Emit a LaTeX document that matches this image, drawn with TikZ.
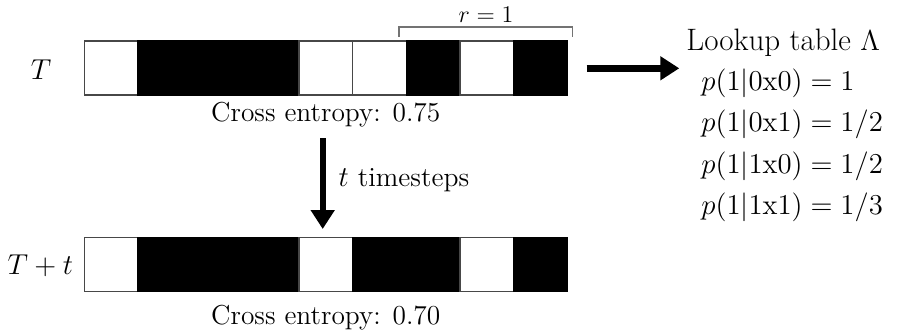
\documentclass[tikz,border=0pt]{standalone}
\usetikzlibrary{arrows.meta}
\begin{document}
\begin{tikzpicture}[x=0.5pt,y=-0.5pt,
 cell/.style={line width=0.8pt, minimum width=26.83pt, minimum height=27pt, inner sep=0pt, outer sep=0pt, anchor=north west},
 w cell/.style={cell, fill=white, draw=black!72},
 b cell/.style={cell, fill=black, draw=black},
 bigtxt/.style={font=\fontsize{13.7}{16}\selectfont, inner sep=0pt},
 titletxt/.style={font=\fontsize{15.5}{18}\selectfont, inner sep=0pt},
 lbl/.style={font=\fontsize{13.8}{16}\selectfont, inner sep=0pt},
 rlbl/.style={font=\fontsize{13}{15}\selectfont, inner sep=0pt},
 ent/.style={font=\fontsize{14.2}{17}\selectfont, inner sep=0pt, anchor=base west},
 bigarrow/.style={line width=3.2pt, -{Triangle[length=9.5pt,width=11.5pt]}},
 brk/.style={draw=black!55, line width=0.7pt}]
\useasboundingbox (0,0) rectangle (901,334);
\foreach \c [count=\i] in {w,b,b,b,w,w,b,w,b}
  {\node[\c\space cell] (a\i) at ({84.3+53.67*(\i-1)},41) {};}
\foreach \c [count=\i] in {w,b,b,b,w,b,b,w,b}
  {\node[\c\space cell] (b\i) at ({84.3+53.67*(\i-1)},237.5) {};}
\node[lbl, anchor=base] (T) at (41,79.3) {$T$};
\node[lbl, anchor=base] (Tt) at (40.3,274.3) {$T+t$};
\draw[brk] (399,36.7) -- (399,27) -- (572.3,27) -- (572.3,36.7);
\node[rlbl, anchor=base] (r) at (486,22.7) {$r=1$};
\node[bigtxt, anchor=base] (ce1) at (325.8,121.7) {Cross entropy: 0.75};
\node[bigtxt, anchor=base] (ce2) at (325.8,324.5) {Cross entropy: 0.70};
\coordinate (d0) at (322.7,138.3);
\coordinate (d1) at (322.7,229);
\draw[bigarrow] (d0) -- (d1);
\node[lbl, anchor=base west] (ts) at (338.3,186) {$t$ timesteps};
\coordinate (h0) at (586.7,68.3);
\coordinate (h1) at (679.3,68.3);
\draw[bigarrow] (h0) -- (h1);
\node[titletxt, anchor=base west] (lt) at (686,50) {Lookup table $\Lambda$};
\node[ent] (e1) at (701,90.7) {$p(1|0\mathrm{x}0)=1$};
\node[ent] (e2) at (701,131.7) {$p(1|0\mathrm{x}1)=1/2$};
\node[ent] (e3) at (701,173) {$p(1|1\mathrm{x}0)=1/2$};
\node[ent] (e4) at (701,214.5) {$p(1|1\mathrm{x}1)=1/3$};
\end{tikzpicture}
\end{document}
